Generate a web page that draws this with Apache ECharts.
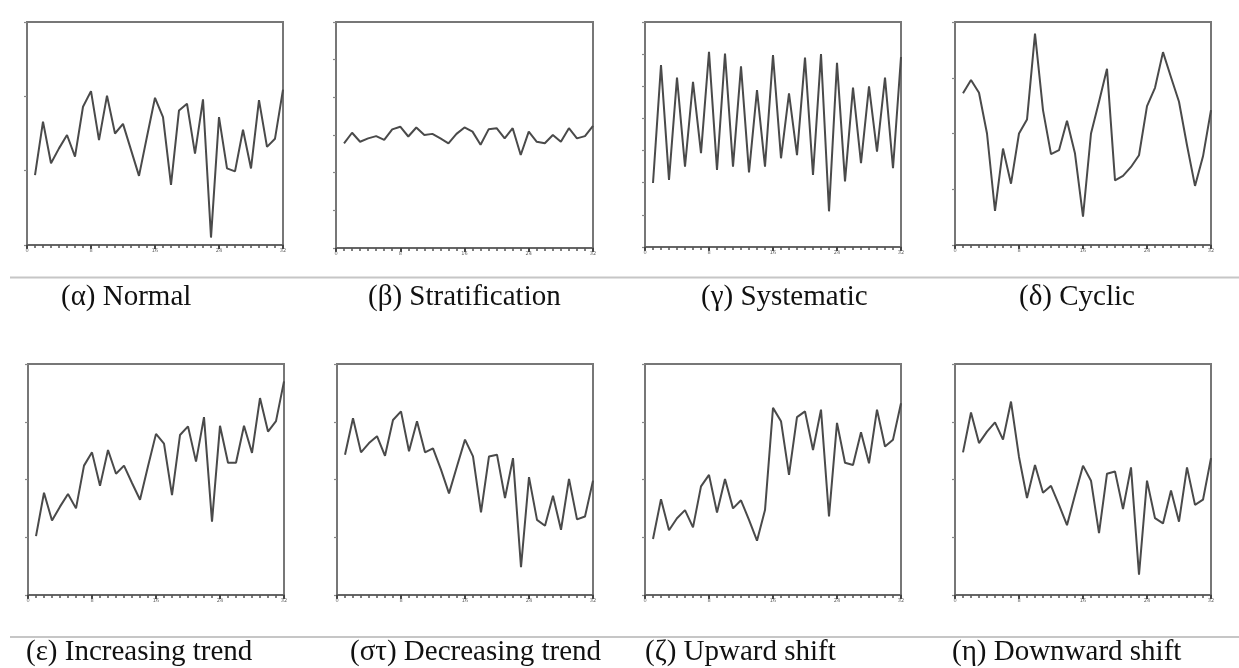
<!DOCTYPE html>
<html>
<head>
<meta charset="utf-8">
<script src="https://cdn.jsdelivr.net/npm/echarts@6/dist/echarts.min.js"></script>
<style>
  html, body { margin: 0; padding: 0; background: #fff; }
  #wrap { position: relative; width: 1239px; height: 668px; }
  #plots, #labels { position: absolute; left: 0; top: 0; width: 1239px; height: 668px; }
  #plots { filter: blur(0.7px); }
</style>
</head>
<body>
<div id="wrap">
  <div id="plots"></div>
  <div id="labels"></div>
</div>
<script>
// Sample index (x axis) shared by every pattern
const samples = [1, 2, 3, 4, 5, 6, 7, 8, 9, 10, 11, 12, 13, 14, 15, 16,
                 17, 18, 19, 20, 21, 22, 23, 24, 25, 26, 27, 28, 29, 30, 31, 32];
const xTicks = [0, 8, 16, 24, 32];

// Control-chart patterns
const normal = [9.4, 16.6, 11.0, 13.0, 14.8, 11.9, 18.6, 20.7, 14.1, 20.1, 15.0, 16.3, 12.8, 9.3, 14.6, 19.8,
                17.2, 8.1, 18.1, 19.0, 12.3, 19.6, 1.0, 17.2, 10.3, 9.9, 15.5, 10.3, 19.5, 13.2, 14.3, 20.9];
const stratification = [27.8, 30.6, 28.2, 29.1, 29.7, 28.7, 31.5, 32.2, 29.6, 32.0, 30.0, 30.3, 29.1, 27.8, 30.3, 32.0,
                        30.9, 27.4, 31.5, 31.8, 29.1, 31.8, 24.7, 30.9, 28.2, 27.8, 30.0, 28.2, 31.8, 29.1, 29.7, 32.4];
const systematic = [19.9, 56.6, 20.9, 52.7, 25.0, 51.4, 29.2, 60.7, 24.0, 60.2, 25.0, 56.2, 23.2, 48.8, 25.0, 59.7,
                    27.6, 47.8, 28.6, 58.9, 22.4, 60.0, 11.1, 57.3, 20.4, 49.6, 26.1, 50.0, 29.7, 52.7, 24.5, 59.1];
const cyclic = [27.2, 29.6, 27.3, 20.0, 6.1, 17.3, 11.0, 20.0, 22.5, 37.9, 24.2, 16.3, 17.0, 22.3, 16.4, 5.1,
                20.0, 25.7, 31.6, 11.6, 12.4, 14.0, 16.1, 24.9, 28.2, 34.6, 30.1, 25.7, 17.9, 10.6, 15.9, 24.2];
const increasingTrend = [10.2, 17.7, 12.9, 15.3, 17.5, 15.0, 22.4, 24.7, 18.9, 25.1, 21.0, 22.4, 19.4, 16.5, 22.3, 27.9,
                         26.2, 17.3, 27.7, 29.2, 23.1, 30.8, 12.7, 29.3, 22.9, 22.9, 29.3, 24.6, 34.1, 28.3, 30.1, 37.0];
const decreasingTrend = [24.3, 30.6, 24.7, 26.3, 27.5, 24.1, 30.3, 31.8, 24.9, 30.1, 24.7, 25.4, 21.7, 17.6, 22.3, 26.9,
                         24.0, 14.3, 24.0, 24.3, 16.8, 23.7, 4.8, 20.4, 13.0, 12.0, 17.2, 11.3, 20.1, 13.1, 13.6, 19.8];
const upwardShift = [9.7, 16.6, 11.2, 13.3, 14.7, 11.7, 18.8, 20.8, 14.3, 20.1, 15.0, 16.4, 13.0, 9.4, 14.7, 32.4,
                     30.1, 20.8, 30.8, 31.8, 25.1, 32.1, 13.6, 29.8, 22.9, 22.5, 28.2, 22.8, 32.1, 25.7, 26.9, 33.2];
const downwardShift = [24.7, 31.6, 26.3, 28.3, 29.9, 26.9, 33.5, 23.9, 16.8, 22.5, 17.7, 18.9, 15.6, 12.1, 17.3, 22.4,
                       19.8, 10.7, 21.0, 21.4, 14.9, 22.1, 3.5, 19.8, 13.3, 12.4, 18.1, 12.7, 22.1, 15.6, 16.5, 23.7];

// Captions and y-axis extents for each panel
const captions = ['(α) Normal', '(β) Stratification', '(γ) Systematic', '(δ) Cyclic',
                  '(ε) Increasing trend', '(στ) Decreasing trend', '(ζ) Upward shift', '(η) Downward shift'];
const yMax = [30, 60, 70, 40, 40, 40, 40, 40];
const seriesList = [normal, stratification, systematic, cyclic,
                    increasingTrend, decreasingTrend, upwardShift, downwardShift];

// Panel frames: [left, top, width, height]
const frames = [
  [27, 22, 256, 223], [336, 22, 257, 226], [645, 22, 256, 225], [955, 22, 256, 223],
  [28, 364, 256, 231], [337, 364, 256, 231], [645, 364, 256, 231], [955, 364, 256, 231]
];
const captionPos = [
  [61, 297], [368, 297], [701, 297], [1019, 297],
  [26, 652], [350, 652], [645, 652], [952, 652]
];

const frameColor = '#777';
const grids = [], xAxes = [], yAxes = [], series = [];
seriesList.forEach((vals, i) => {
  const f = frames[i];
  grids.push({
    left: f[0], top: f[1], width: f[2], height: f[3],
    show: true, borderColor: frameColor, borderWidth: 2, backgroundColor: '#fff'
  });
  xAxes.push({
    type: 'value', gridIndex: i, min: xTicks[0], max: xTicks[xTicks.length - 1], interval: 8,
    axisLine: { show: true, onZero: false, lineStyle: { color: '#666', width: 2 } },
    axisTick: { show: true, length: 4, lineStyle: { color: '#444', width: 2 } },
    minorTick: { show: true, splitNumber: 8, length: 3, lineStyle: { color: '#555', width: 1.5 } },
    axisLabel: { show: true, fontSize: 5, color: '#666', margin: 3, fontFamily: 'DejaVu Sans' },
    splitLine: { show: false }
  });
  yAxes.push({
    type: 'value', gridIndex: i, min: 0, max: yMax[i], interval: 10,
    axisLine: { show: true, lineStyle: { color: frameColor, width: 2 } },
    axisTick: { show: true, length: 3, lineStyle: { color: '#888', width: 1.2 } },
    axisLabel: { show: false },
    splitLine: { show: false }
  });
  series.push({
    type: 'line', xAxisIndex: i, yAxisIndex: i,
    data: samples.map((s, k) => [s, vals[k]]),
    symbol: 'none', smooth: false,
    lineStyle: { color: '#4a4a4a', width: 2 },
    animation: false
  });
});

const plots = echarts.init(document.getElementById('plots'), null, { renderer: 'canvas' });
plots.setOption({
  animation: false,
  backgroundColor: '#fff',
  grid: grids, xAxis: xAxes, yAxis: yAxes, series: series
});

// Captions and separator rules
const graphics = [
  { type: 'line', shape: { x1: 10, y1: 277.5, x2: 1239, y2: 277.5 }, style: { stroke: '#c6c6c6', lineWidth: 2 } },
  { type: 'line', shape: { x1: 10, y1: 637, x2: 1239, y2: 637 }, style: { stroke: '#c6c6c6', lineWidth: 2 } }
];
captions.forEach((c, i) => {
  graphics.push({
    type: 'text',
    x: captionPos[i][0], y: captionPos[i][1],
    style: {
      text: c, fill: '#111',
      font: '29px "Liberation Serif", "Times New Roman", serif',
      textAlign: 'left', textVerticalAlign: 'middle'
    }
  });
});
const labels = echarts.init(document.getElementById('labels'), null, { renderer: 'canvas' });
labels.setOption({ animation: false, graphic: graphics });
</script>
</body>
</html>
